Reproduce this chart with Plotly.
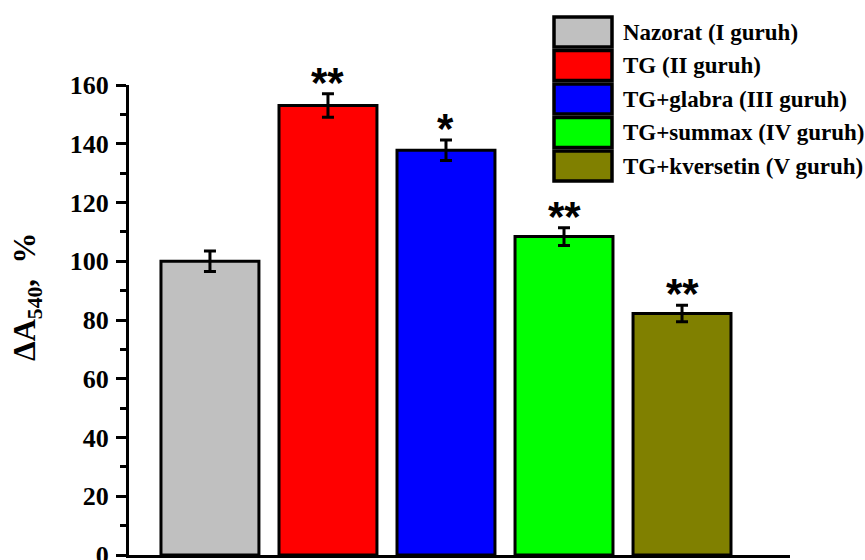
import plotly.graph_objects as go

categories = ["Nazorat (I guruh)", "TG (II guruh)", "TG+glabra (III guruh)",
              "TG+summax (IV guruh)", "TG+kversetin (V guruh)"]
values = [100.0, 153.0, 137.8, 108.4, 82.2]
errors = [3.5, 4.0, 3.5, 3.0, 2.8]
significance = ["", "**", "*", "**", "**"]
colors = ["#C0C0C0", "#FF0000", "#0000FF", "#00FF00", "#808000"]
y_ticks = [0, 20, 40, 60, 80, 100, 120, 140, 160]

SERIF = "Liberation Serif"
SANS = "Liberation Sans"

fig = go.Figure()
for i, (cat, v, e, c) in enumerate(zip(categories, values, errors, colors)):
    fig.add_trace(go.Bar(
        x=[i], y=[v], name=cat,
        marker=dict(color=c, line=dict(color="black", width=3)),
        width=0.83,
        error_y=dict(type="data", array=[e], visible=True, color="black",
                     thickness=3, width=6),
        showlegend=False,
    ))

# significance markers
for i, (v, e, s) in enumerate(zip(values, errors, significance)):
    if s:
        fig.add_annotation(x=i, y=v + e, xref="x", yref="y", text=s,
                           showarrow=False, yanchor="bottom", yshift=-14,
                           font=dict(family=SANS, size=42, color="black", weight="bold"))

# pixel layout of the plot area (figure is taller than the window; bottom is cropped)
FIG_W, FIG_H = 865, 600
L, R, T, B = 129, 790, 85, 555
W, H = R - L, B - T
def px_x(p):
    return (p - L) / W
def px_y(p):
    return (B - p) / H

# custom legend (large swatches like the original)
row_top = 17
pitch = 33.5
for k, (cat, c) in enumerate(zip(categories, colors)):
    top = row_top + k * pitch
    bot = top + 30
    fig.add_shape(type="rect", xref="paper", yref="paper",
                  x0=px_x(554), x1=px_x(612), y0=px_y(bot), y1=px_y(top),
                  fillcolor=c, line=dict(color="black", width=3.5))
    fig.add_annotation(x=px_x(621), y=px_y((top + bot) / 2), xref="paper", yref="paper",
                       text=cat, showarrow=False, xanchor="left",
                       yanchor="middle",
                       font=dict(family=SERIF, size=23, color="black", weight="bold"))

# y-axis title
fig.add_annotation(x=px_x(27), y=px_y(297), xref="paper", yref="paper",
                   text="ΔA<sub>540</sub>,&nbsp;&nbsp;%", textangle=-90,
                   showarrow=False, xanchor="center", yanchor="middle",
                   font=dict(family=SERIF, size=31, color="black", weight="bold"))

fig.update_layout(
    width=FIG_W, height=FIG_H,
    margin=dict(l=L, r=FIG_W - R, t=T, b=FIG_H - B),
    paper_bgcolor="white", plot_bgcolor="white",
    showlegend=False,
    xaxis=dict(range=[-0.686, 4.915], showline=True, linecolor="black", linewidth=3,
               showticklabels=False, ticks="", showgrid=False, zeroline=False),
    yaxis=dict(range=[0, 160], tickvals=y_ticks, showline=True, linecolor="black",
               linewidth=3, ticks="outside", ticklen=10, tickwidth=3, tickcolor="black",
               minor=dict(dtick=10, ticks="outside", ticklen=6, tickwidth=3, tickcolor="black"),
               showgrid=False, zeroline=False,
               tickfont=dict(family=SERIF, size=26, color="black", weight="bold"),
               ticklabelstandoff=2),
)

fig.write_html("out.html", config={"displayModeBar": False},
               post_script="document.body.style.margin='0';document.body.style.overflow='hidden';document.documentElement.style.overflow='hidden';")
